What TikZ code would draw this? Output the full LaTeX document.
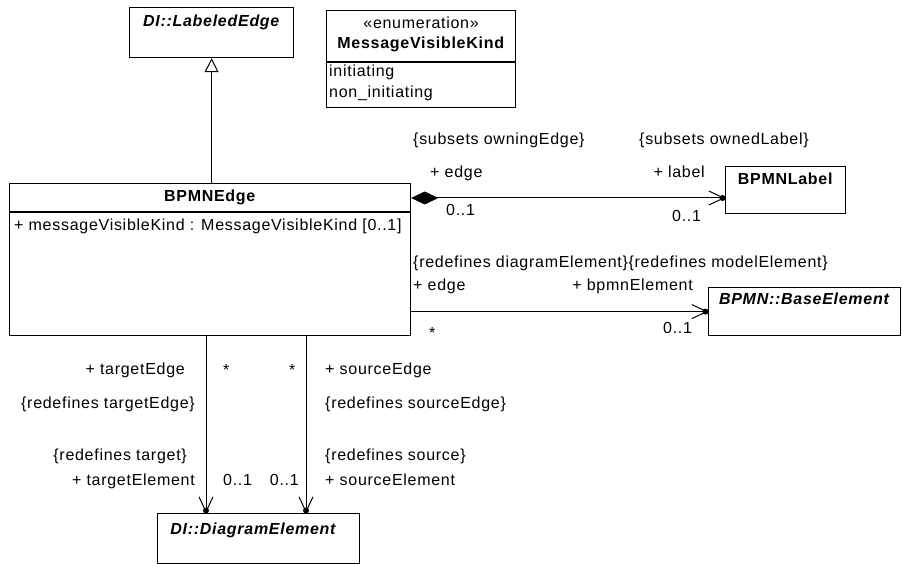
\documentclass[tikz,border=0pt]{standalone}
\usepackage{fontspec}
\setmainfont{Liberation Sans}[LetterSpace=4.5]
\usetikzlibrary{arrows.meta}
\begin{document}
\begin{tikzpicture}[x=1pt,y=-1pt,
  txt/.style={font=\fontsize{16}{19}\selectfont, inner sep=0pt, text height=12pt, text depth=4pt},
  box/.style={draw, line width=1.2pt, anchor=north west, inner sep=0pt, text height=0pt, text depth=0pt},
  sep/.style={line width=1.2pt},
  gen/.style={line width=1pt, {Triangle[open,length=14pt,width=14pt,line width=1pt]}-},
  comp/.style={line width=1pt, {Diamond[length=27pt,width=13pt]}-{Straight Barb[length=15pt,width=14pt]}},
  assoc/.style={line width=1pt, -{Straight Barb[length=15pt,width=14pt]}},
  dot/.style={fill=black}
]
\useasboundingbox (0,0) rectangle (902,564);

% boxes
\node[box, minimum width=164pt, minimum height=50pt] (le) at (129,7) {};
\node[box, minimum width=189pt, minimum height=97pt] (enum) at (326,10) {};
\node[box, minimum width=401pt, minimum height=152pt] (be) at (9,183) {};
\node[box, minimum width=120pt, minimum height=47pt] (lab) at (725,166) {};
\node[box, minimum width=192pt, minimum height=48pt] (base) at (708,287) {};
\node[box, minimum width=202pt, minimum height=50pt] (de) at (157,513) {};

% separators
\draw[sep] ([yshift=-52pt]enum.north west) -- ([yshift=-52pt]enum.north east);
\draw[sep] ([yshift=-29pt]be.north west) -- ([yshift=-29pt]be.north east);

% titles and contents
\node[txt] (leT) at ([yshift=-16pt]le.north) {\textbf{\textit{DI::LabeledEdge}}};
\node[txt] (enS) at ([yshift=-15pt]enum.north) {«enumeration»};
\node[txt] (enT) at ([yshift=-35pt]enum.north) {\textbf{MessageVisibleKind}};
\node[txt, anchor=west] (en1) at ([xshift=3pt,yshift=-63pt]enum.north west) {initiating};
\node[txt, anchor=west] (en2) at ([xshift=3pt,yshift=-84pt]enum.north west) {non\_initiating};
\node[txt] (beT) at ([yshift=-15pt]be.north) {\textbf{BPMNEdge}};
\node[txt, anchor=west] (beA) at ([xshift=5pt,yshift=-43pt]be.north west) {+ messageVisibleKind : MessageVisibleKind [0..1]};
\node[txt] (labT) at ([yshift=-15pt]lab.north) {\textbf{BPMNLabel}};
\node[txt] (baseT) at ([yshift=-13pt]base.north) {\textbf{\textit{BPMN::BaseElement}}};
\node[txt] (deT) at ([xshift=-5pt,yshift=-17pt]de.north) {\textbf{\textit{DI::DiagramElement}}};

% connectors
\draw[gen] (le.south) -- (le.south |- be.north);
\draw[comp] ([yshift=-15pt]be.north east) coordinate (c1) -- (c1 -| lab.west) coordinate (c1e);
\fill[dot] ([xshift=-2.5pt]c1e) circle (3pt);
\draw[assoc] (be.east |- base.west) -- (base.west) coordinate (b1e);
\fill[dot] ([xshift=-2.5pt]b1e) circle (3pt);
\draw[assoc] ([xshift=197pt]be.south west) coordinate (t1) -- (t1 |- de.north) coordinate (t1e);
\fill[dot] ([yshift=2.5pt]t1e) circle (3pt);
\draw[assoc] ([xshift=297pt]be.south west) coordinate (s1) -- (s1 |- de.north) coordinate (s1e);
\fill[dot] ([yshift=2.5pt]s1e) circle (3pt);

% composition labels
\node[txt, anchor=west] (l1) at (413,141) {\{subsets owningEdge\}};
\node[txt, anchor=west] (l2) at (639,141) {\{subsets ownedLabel\}};
\node[txt, anchor=west] (l3) at (430,174) {+ edge};
\node[txt, anchor=west] (l4) at (446,211) {0..1};
\node[txt, anchor=east] (l5) at (705,174) {+ label};
\node[txt, anchor=west] (l6) at (672,218) {0..1};

% base element labels
\node[txt, anchor=west] (m1) at (413,263) {\{redefines diagramElement\}\{redefines modelElement\}};
\node[txt, anchor=west] (m2) at (413,286) {+ edge};
\node[txt, anchor=east] (m3) at (693,286) {+ bpmnElement};
\node[txt, anchor=west] (m4) at (429,334) {*};
\node[txt, anchor=west] (m5) at (663,329) {0..1};

% bottom labels
\node[txt, anchor=east] (n1) at (185,370) {+ targetEdge};
\node[txt, anchor=west] (n2) at (223,371) {*};
\node[txt, anchor=west] (n3) at (289,371) {*};
\node[txt, anchor=west] (n4) at (325,370) {+ sourceEdge};
\node[txt, anchor=east] (n5) at (195,404) {\{redefines targetEdge\}};
\node[txt, anchor=west] (n6) at (325,404) {\{redefines sourceEdge\}};
\node[txt, anchor=east] (n7) at (187,456) {\{redefines target\}};
\node[txt, anchor=west] (n8) at (325,456) {\{redefines source\}};
\node[txt, anchor=east] (n9) at (195,481) {+ targetElement};
\node[txt, anchor=west] (n10) at (223,481) {0..1};
\node[txt, anchor=east] (n11) at (299,481) {0..1};
\node[txt, anchor=west] (n12) at (325,481) {+ sourceElement};
\end{tikzpicture}
\end{document}
